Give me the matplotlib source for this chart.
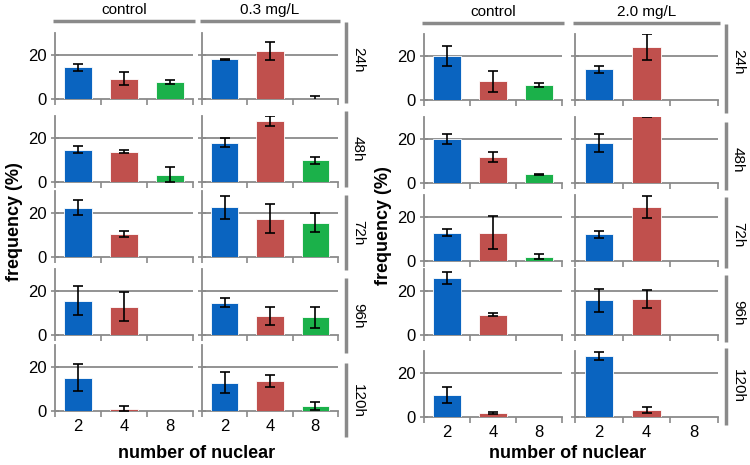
import matplotlib
matplotlib.use("Agg")
import matplotlib.pyplot as plt
from matplotlib.lines import Line2D

plt.rcParams['font.family'] = ['Liberation Sans', 'DejaVu Sans']

# data (mean, error) -- rows: 24h..120h, cols: 2,4,8 nuclei
times = ['24h', '48h', '72h', '96h', '120h']
nuclei = ['2', '4', '8']
colors = ['#0A64C0', '#C0504D', '#1BB14A']

ctrl_a = [[14.5, 9.3, 7.6], [14.6, 13.8, 3.2], [22.4, 10.4, 0], [15.6, 12.9, 0], [15.2, 1.1, 0]]
ctrl_a_err = [[1.6, 2.9, 1.0], [1.6, 0.6, 3.4], [3.5, 1.4, 0], [6.6, 6.6, 0], [6.2, 1.0, 0]]
dose03 = [[18.1, 21.9, 0.2], [17.9, 27.6, 9.9], [22.6, 17.4, 15.6], [14.7, 8.6, 8.0], [12.9, 13.5, 2.2]]
dose03_err = [[0.3, 4.0, 1.0], [2.1, 2.3, 1.6], [5.2, 6.5, 4.4], [2.0, 4.0, 4.8], [4.8, 2.8, 1.8]]

ctrl_b = [[20.0, 8.6, 6.8], [20.0, 11.7, 3.9], [12.9, 12.9, 2.0], [26.0, 9.2, 0], [9.9, 1.7, 0]]
ctrl_b_err = [[4.6, 4.8, 1.0], [2.3, 2.2, 0.4], [1.7, 7.5, 1.2], [2.6, 0.6, 0], [3.6, 0.5, 0]]
dose20 = [[13.9, 24.0, 0], [18.3, 30.5, 0], [12.1, 24.5, 0], [15.8, 16.5, 0], [27.7, 3.2, 0]]
dose20_err = [[1.7, 6.0, 0], [4.0, 0.3, 0], [1.5, 5.0, 0], [5.3, 4.0, 0], [2.0, 1.4, 0]]

W, H = 750, 465
fig = plt.figure(figsize=(W / 100, H / 100), dpi=100)
GRAY = '#8a8a8a'


def fx(x):
    return x / W


def fy(y):
    return 1 - y / H


def hline(x0, x1, y, lw=2.5):
    fig.add_artist(Line2D([fx(x0), fx(x1)], [fy(y), fy(y)], color=GRAY, lw=lw,
                          solid_capstyle='butt'))


def vline(x, y0, y1, lw=2.5):
    fig.add_artist(Line2D([fx(x), fx(x)], [fy(y0), fy(y1)], color=GRAY, lw=lw,
                          solid_capstyle='butt'))


def panel(cols, zeros, bands, groups, heads, head_y, tag_x, ylab_x, xlab_x):
    for (x0, x1), head, (vals, errs), first in zip(cols, heads, groups, [True, False]):
        fig.text(fx((x0 + x1) / 2), fy(head_y), head, ha='center', va='center', fontsize=11)
        hline(x0 - 2, x1 + 2, head_y + 11)
        for r, z in enumerate(zeros):
            top = z - 66
            ax = fig.add_axes([fx(x0), fy(z), fx(x1 - x0), (z - top) / H])
            pos = [i + 0.5 for i in range(3)]
            for i in range(3):
                if vals[r][i] <= 0:
                    continue
                ax.bar(pos[i], vals[r][i], width=0.6, color=colors[i],
                       edgecolor='white', linewidth=0.6, zorder=3)
                if errs[r][i] > 0:
                    ax.errorbar(pos[i], vals[r][i], yerr=errs[r][i], color='black',
                                lw=1.2, capsize=3.5, capthick=1.2, zorder=4)
            ax.set_xlim(0, 3)
            ax.set_ylim(0, 30)
            ax.axhline(20, color=GRAY, lw=1.3, zorder=1)
            for s in ['top', 'right']:
                ax.spines[s].set_visible(False)
            for s in ['left', 'bottom']:
                ax.spines[s].set_color(GRAY)
                ax.spines[s].set_linewidth(1.3)
            ax.set_yticks([0, 20])
            ax.tick_params(axis='y', direction='inout', length=6, color=GRAY, width=1.2,
                           labelsize=12, labelleft=first, pad=3)
            ax.set_xticks([0, 1, 2, 3])
            ax.set_xticklabels([])
            ax.tick_params(axis='x', which='major', direction='out', length=4, color=GRAY, width=1.2)
            ax.set_xticks(pos, minor=True)
            ax.tick_params(axis='x', which='minor', length=0, labelsize=12, pad=6)
            if r == len(zeros) - 1:
                ax.set_xticklabels(nuclei, minor=True)
            else:
                ax.set_xticklabels([], minor=True)
            ax.set_facecolor('none')
    for r, (b0, b1) in enumerate(bands):
        vline(tag_x, b0, b1)
        fig.text(fx(tag_x + 12), fy(b0 + 38), times[r], rotation=-90,
                 ha='center', va='center', fontsize=11)
    mid = (zeros[0] - 66 + zeros[-1]) / 2
    fig.text(fx(ylab_x), fy(mid), 'frequency (%)', rotation=90, ha='center', va='center',
             fontsize=13, fontweight='bold')
    fig.text(fx(xlab_x), fy(453), 'number of nuclear', ha='center', va='center',
             fontsize=13, fontweight='bold')


panel([(55, 193), (202, 338)], [99, 182, 257, 335, 411],
      [(22, 103), (111, 187), (195, 270), (278, 353), (363, 437)],
      [(ctrl_a, ctrl_a_err), (dose03, dose03_err)], ['control', '0.3 mg/L'],
      10, 346, 15, 197)
panel([(424, 562), (575, 718)], [100, 183, 261, 335, 417],
      [(24, 113), (122, 190), (197, 268), (275, 342), (348, 425)],
      [(ctrl_b, ctrl_b_err), (dose20, dose20_err)], ['control', '2.0 mg/L'],
      12, 726, 384, 568)

fig.savefig('out.png', dpi=100)
